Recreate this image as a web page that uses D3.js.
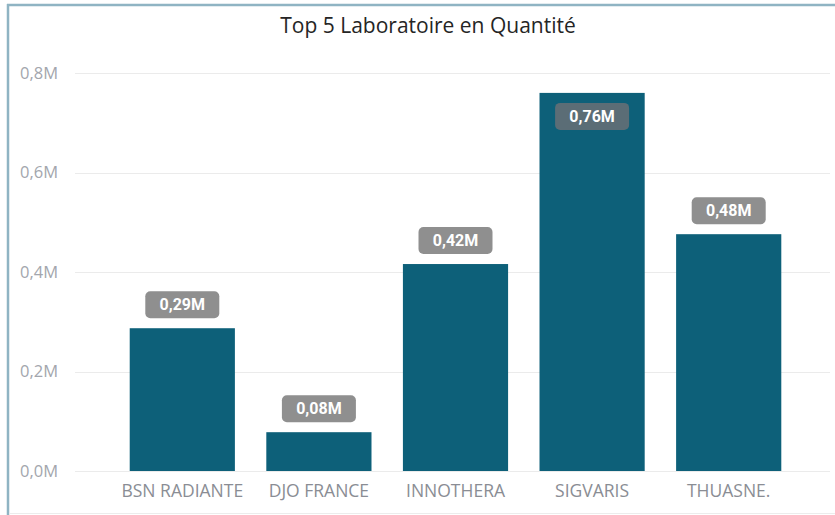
<!DOCTYPE html>
<html>
<head>
<meta charset="utf-8">
<script src="https://cdn.jsdelivr.net/npm/d3@7"></script>
<style>
  body { margin: 0; background: #fff; }
  svg { display: block; }
</style>
</head>
<body>
<div class="chart"></div>
<script>
// data
var labos = ["BSN RADIANTE", "DJO FRANCE", "INNOTHERA", "SIGVARIS", "THUASNE."];
var quantites = [0.287, 0.078, 0.416, 0.760, 0.476]; // millions
var yTicks = [0, 0.2, 0.4, 0.6, 0.8];
var titre = "Top 5 Laboratoire en Quantité";

var svgWidth = 835;
var svgHeight = 515;
var police = "'Open Sans', 'Noto Sans', sans-serif";

var svg = d3.select(".chart")
  .append("svg")
  .attr("width", svgWidth)
  .attr("height", svgHeight);

// frame of the visual: blue top and left edges, faint bottom line
svg.append("line")
  .attr("x1", 7).attr("x2", svgWidth)
  .attr("y1", 5).attr("y2", 5)
  .attr("stroke", "#8fb4c3").attr("stroke-width", 2.5);
svg.append("line")
  .attr("x1", 8).attr("x2", 8)
  .attr("y1", 4).attr("y2", svgHeight)
  .attr("stroke", "#8fb4c3").attr("stroke-width", 2.5);
svg.append("line")
  .attr("x1", 9).attr("x2", svgWidth)
  .attr("y1", 513.5).attr("y2", 513.5)
  .attr("stroke", "#ececec").attr("stroke-width", 1);

svg.append("text")
  .attr("x", 428)
  .attr("y", 33)
  .attr("text-anchor", "middle")
  .attr("font-family", police)
  .attr("font-size", "21px")
  .attr("fill", "#252525")
  .text(titre);

var xScale = d3.scaleBand()
  .domain(labos)
  .range([114, 797])
  .paddingInner(0.23)
  .paddingOuter(0.115);

var yScale = d3.scaleLinear()
  .domain([0, 0.8])
  .range([471, 73]);

var fr = d3.formatLocale({ decimal: ",", thousands: " ", grouping: [3], currency: ["", "€"] });
var fmtTick = function (d) { return fr.format(".1f")(d) + "M"; };
var fmtVal = function (d) { return fr.format(".2f")(d) + "M"; };

// gridlines
svg.append("g")
  .selectAll("line")
  .data(yTicks)
  .enter()
  .append("line")
  .attr("x1", 75)
  .attr("x2", 830)
  .attr("y1", function (d) { return Math.round(yScale(d)) + 0.5; })
  .attr("y2", function (d) { return Math.round(yScale(d)) + 0.5; })
  .attr("stroke", "#ebebeb")
  .attr("stroke-width", 1);

// y axis labels
var yAxis = d3.axisLeft(yScale)
  .tickValues(yTicks)
  .tickFormat(fmtTick)
  .tickSize(0)
  .tickPadding(0);

var yG = svg.append("g")
  .attr("transform", "translate(58,0)")
  .call(yAxis);
yG.select(".domain").remove();
yG.selectAll("text")
  .attr("font-family", police)
  .attr("font-size", "16.5px")
  .attr("fill", "#a3a6ad");

// x axis labels
var xAxis = d3.axisBottom(xScale).tickSize(0).tickPadding(0);
var xG = svg.append("g")
  .attr("transform", "translate(0,497)")
  .call(xAxis);
xG.select(".domain").remove();
xG.selectAll("text")
  .attr("dy", "0")
  .attr("font-family", police)
  .attr("font-size", "17.5px")
  .attr("fill", "#8a8d94");

// bars
var rows = labos.map(function (l, i) { return { labo: l, q: quantites[i] }; });

svg.append("g")
  .selectAll("rect")
  .data(rows)
  .enter()
  .append("rect")
  .attr("x", function (d) { return xScale(d.labo); })
  .attr("y", function (d) { return yScale(d.q); })
  .attr("width", xScale.bandwidth())
  .attr("height", function (d) { return yScale(0) - yScale(d.q); })
  .attr("fill", "#0d6079");

// data labels (inside the bar when it is near the top)
var boxW = 74, boxH = 27;
function inside(d) { return yScale(d.q) - boxH - 11 < 80; }
function boxY(d) { return inside(d) ? yScale(d.q) + 10 : yScale(d.q) - boxH - 10; }

var lab = svg.append("g")
  .selectAll("g")
  .data(rows)
  .enter()
  .append("g")
  .attr("transform", function (d) {
    return "translate(" + (xScale(d.labo) + xScale.bandwidth() / 2) + "," + boxY(d) + ")";
  });

lab.append("rect")
  .attr("x", -boxW / 2)
  .attr("y", 0)
  .attr("width", boxW)
  .attr("height", boxH)
  .attr("rx", 5)
  .attr("fill", function (d) { return inside(d) ? "#5b6d76" : "#8f8f8f"; });

lab.append("text")
  .attr("x", 0)
  .attr("y", boxH / 2)
  .attr("dy", "0.36em")
  .attr("text-anchor", "middle")
  .attr("font-family", "'Roboto', 'Noto Sans', sans-serif")
  .attr("font-weight", "bold")
  .attr("font-size", "16px")
  .attr("fill", "#fff")
  .text(function (d) { return fmtVal(d.q); });
</script>
</body>
</html>
